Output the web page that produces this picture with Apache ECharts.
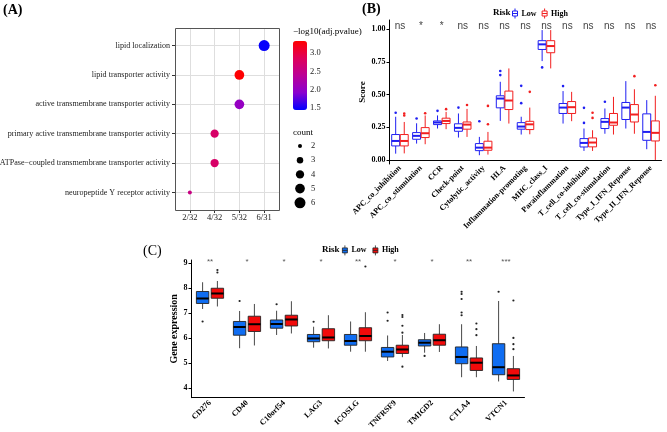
<!DOCTYPE html>
<html>
<head>
<meta charset="utf-8">
<script src="https://cdn.jsdelivr.net/npm/echarts@6.0.0/dist/echarts.min.js"></script>
<style>
html, body { margin: 0; padding: 0; background: #fff; }
#chart { width: 667px; height: 432px; }
</style>
</head>
<body>
<div id="chart"></div>
<script>
// ---- panel A: GO enrichment dot plot
var goTerms = ['lipid localization', 'lipid transporter activity', 'active transmembrane transporter activity',
  'primary active transmembrane transporter activity', 'ATPase\u2212coupled transmembrane transporter activity',
  'neuropeptide Y receptor activity'];
var geneRatioLabels = ['2/32', '4/32', '5/32', '6/31'];
var termRatio = ['6/31', '5/32', '5/32', '4/32', '4/32', '2/32'];
var termCount = [6, 5, 5, 4, 4, 2];
var termLogP = [1.47, 3.32, 2.02, 2.76, 2.76, 2.55];
var logPTicks = [3.0, 2.5, 2.0, 1.5];
var countTicks = [2, 3, 4, 5, 6];

// ---- panel B: immune function scores
var immuneSets = ['APC_co_inhibition', 'APC_co_stimulation', 'CCR', 'Check-point', 'Cytolytic_activity', 'HLA',
  'Inflammation-promoting', 'MHC_class_I', 'Parainflammation', 'T_cell_co-inhibition', 'T_cell_co-stimulation',
  'Type_I_IFN_Reponse', 'Type_II_IFN_Reponse'];
// [min, Q1, median, Q3, max]
var scoreLow = [
  [0.048, 0.107, 0.145, 0.194, 0.33], [0.125, 0.158, 0.184, 0.209, 0.28], [0.24, 0.27, 0.286, 0.298, 0.34],
  [0.171, 0.219, 0.245, 0.276, 0.355], [0.036, 0.071, 0.094, 0.125, 0.176], [0.298, 0.398, 0.469, 0.49, 0.597],
  [0.194, 0.235, 0.255, 0.285, 0.33], [0.755, 0.844, 0.883, 0.911, 0.992], [0.278, 0.355, 0.40, 0.431, 0.526],
  [0.069, 0.099, 0.13, 0.163, 0.24], [0.2, 0.24, 0.291, 0.316, 0.393], [0.24, 0.309, 0.40, 0.439, 0.602],
  [0.082, 0.15, 0.214, 0.352, 0.457]
];
var scoreHigh = [
  [0.05, 0.107, 0.145, 0.194, 0.29], [0.12, 0.171, 0.204, 0.247, 0.34], [0.235, 0.278, 0.298, 0.319, 0.367],
  [0.176, 0.235, 0.27, 0.29, 0.39], [0.041, 0.074, 0.094, 0.143, 0.214], [0.278, 0.385, 0.454, 0.526, 0.699],
  [0.196, 0.232, 0.272, 0.295, 0.40], [0.699, 0.819, 0.87, 0.911, 0.992], [0.296, 0.355, 0.403, 0.446, 0.52],
  [0.069, 0.1, 0.133, 0.168, 0.227], [0.194, 0.265, 0.286, 0.355, 0.482], [0.2, 0.29, 0.347, 0.423, 0.54],
  [0.0, 0.145, 0.207, 0.298, 0.49]
];
var scoreLowOut = [[0.36], [0.316], [0.375], [0.40], [0.296], [0.648, 0.679], [0.434, 0.566], [0.707], [0.564],
  [0.283, 0.398], [0.444], [], []];
var scoreHighOut = [[0.34, 0.355], [0.357], [0.388], [0.42], [0.273, 0.413], [], [0.52], [], [], [0.321, 0.36],
  [], [0.64], [0.57]];
var sigB = ['ns', '*', '*', 'ns', 'ns', 'ns', 'ns', 'ns', 'ns', 'ns', 'ns', 'ns', 'ns'];
var scoreTicks = [0, 0.25, 0.5, 0.75, 1];

// ---- panel C: checkpoint gene expression
var genes = ['CD276', 'CD40', 'C10orf54', 'LAG3', 'ICOSLG', 'TNFRSF9', 'TMIGD2', 'CTLA4', 'VTCN1'];
var exprLow = [
  [7.17, 7.39, 7.59, 7.87, 8.24], [5.6, 6.12, 6.45, 6.67, 7.09], [6.13, 6.4, 6.57, 6.73, 7.1],
  [5.62, 5.86, 5.99, 6.15, 6.46], [5.46, 5.72, 5.89, 6.15, 6.67], [5.09, 5.25, 5.46, 5.63, 6.11],
  [5.42, 5.69, 5.82, 5.94, 6.21], [4.44, 4.98, 5.25, 5.65, 6.56], [4.27, 4.54, 4.84, 5.78, 7.49]
];
var exprHigh = [
  [7.27, 7.6, 7.79, 8.0, 8.29], [5.71, 6.27, 6.56, 6.88, 7.37], [6.19, 6.49, 6.75, 6.92, 7.48],
  [5.59, 5.9, 6.03, 6.38, 6.92], [5.46, 5.9, 6.09, 6.42, 7.04], [5.24, 5.39, 5.55, 5.72, 6.13],
  [5.45, 5.72, 5.92, 6.16, 6.56], [4.44, 4.71, 5.02, 5.21, 5.69], [3.87, 4.35, 4.51, 4.78, 5.29]
];
var exprLowOut = [[6.67], [7.49], [7.36], [6.66], [], [6.7, 7.03], [5.29], [6.92, 7.03, 7.57, 7.77, 7.86], [7.86]];
var exprHighOut = [[8.63, 8.73], [], [], [], [8.87], [4.86, 6.22, 6.5, 6.85, 6.93], [], [6.12, 6.36, 6.59],
  [5.56, 5.76, 6.01, 7.51]];
var sigC = ['**', '*', '*', '*', '**', '*', '*', '**', '***'];
var exprTicks = [4, 5, 6, 7, 8, 9];

var SERIF = '"Liberation Serif", "Times New Roman", serif';
var SANS = '"Liberation Sans", Arial, sans-serif';
var blueB = '#1f1ff2', redB = '#f21f1f';
var blueC = '#0f6df2', redC = '#f20a0a';
var lpMin = 1.445, lpMax = 3.33;

function boxRows(stats) {
  return stats.map(function (s, i) { return [i].concat(s); });
}
function outRows(outs) {
  var rows = [];
  outs.forEach(function (vals, i) { vals.forEach(function (v) { rows.push([i, v]); }); });
  return rows;
}
function boxRender(off, wFrac, fill, stroke, whisker, median, lw) {
  return function (params, api) {
    var i = api.value(0);
    var band = api.size([1, 0])[0];
    var cx = api.coord([i, 0])[0] + band * off;
    var hw = band * wFrac / 2;
    var lo = api.coord([i, api.value(1)])[1];
    var q1 = api.coord([i, api.value(2)])[1];
    var md = api.coord([i, api.value(3)])[1];
    var q3 = api.coord([i, api.value(4)])[1];
    var hi = api.coord([i, api.value(5)])[1];
    return {
      type: 'group',
      children: [
        { type: 'line', shape: { x1: cx, y1: hi, x2: cx, y2: q3 }, style: { stroke: whisker, lineWidth: lw } },
        { type: 'line', shape: { x1: cx, y1: q1, x2: cx, y2: lo }, style: { stroke: whisker, lineWidth: lw } },
        { type: 'rect', shape: { x: cx - hw, y: q3, width: hw * 2, height: q1 - q3 },
          style: { fill: fill, stroke: stroke, lineWidth: lw } },
        { type: 'line', shape: { x1: cx - hw, y1: md, x2: cx + hw, y2: md }, style: { stroke: median, lineWidth: 2 } }
      ]
    };
  };
}
function dotRender(off, color, r) {
  return function (params, api) {
    var band = api.size([1, 0])[0];
    var p = api.coord([api.value(0), api.value(1)]);
    return { type: 'circle', shape: { cx: p[0] + band * off, cy: p[1], r: r }, style: { fill: color } };
  };
}
function sigRender(labels, font, color) {
  return function (params, api) {
    var p = api.coord([api.value(0), api.value(1)]);
    return { type: 'text', x: p[0], y: p[1],
      style: { text: labels[api.value(0)], font: font, fill: color, align: 'center', verticalAlign: 'bottom' } };
  };
}
function dotSize(c) {
  return Math.sqrt(16 + 105 * (c - 2) / 4);
}

var boxIcon = 'path://M3,0L3,3M0,3L6,3L6,9L0,9ZM0,6L6,6M3,9L3,12';

var graphics = [
  { type: 'text', x: 3, y: 3, style: { text: '(A)', font: 'bold 14px ' + SERIF, fill: '#000' } },
  { type: 'text', x: 362, y: 2, style: { text: '(B)', font: 'bold 14px ' + SERIF, fill: '#000' } },
  { type: 'text', x: 143, y: 244, style: { text: '(C)', font: '14px ' + SERIF, fill: '#000' } },
  { type: 'text', x: 293, y: 32, style: { text: '\u2212log10(adj.pvalue)', font: '9px ' + SERIF, fill: '#000', verticalAlign: 'middle' } },
  { type: 'text', x: 293, y: 133, style: { text: 'count', font: '9px ' + SERIF, fill: '#000', verticalAlign: 'middle' } },
  { type: 'text', x: 493, y: 13, style: { text: 'Risk', font: 'bold 9px ' + SERIF, fill: '#000', verticalAlign: 'middle' } },
  { type: 'text', x: 322, y: 250, style: { text: 'Risk', font: 'bold 9px ' + SERIF, fill: '#000', verticalAlign: 'middle' } },
  // panel A frame (theme_bw border)
  { type: 'rect', z: 10, silent: true, shape: { x: 175.5, y: 28.5, width: 104, height: 182 },
    style: { fill: 'none', stroke: '#555', lineWidth: 1 } }
];
logPTicks.forEach(function (v) {
  graphics.push({ type: 'text', x: 310, y: 41 + (lpMax - v) / (lpMax - lpMin) * 69,
    style: { text: v.toFixed(1), font: '8.5px ' + SERIF, fill: '#222', verticalAlign: 'middle' } });
});
countTicks.forEach(function (c, k) {
  var y = 146 + k * 14.2;
  graphics.push({ type: 'circle', shape: { cx: 300, cy: y, r: dotSize(c) / 2 }, style: { fill: '#000' } });
  graphics.push({ type: 'text', x: 311, y: y,
    style: { text: String(c), font: '8.5px ' + SERIF, fill: '#222', verticalAlign: 'middle' } });
});

// panel A major grid lines at every category
var gridMarks = geneRatioLabels.map(function (l, i) { return { xAxis: i }; })
  .concat(goTerms.map(function (t, j) { return { yAxis: j }; }));

var chart = echarts.init(document.getElementById('chart'));
chart.setOption({
  animation: false,
  backgroundColor: '#fff',
  graphic: graphics,
  grid: [
    { left: 175, top: 28, width: 104, height: 182, show: false, outerBoundsMode: 'none' },
    { left: 389.5, top: 20, width: 272, height: 144, outerBoundsMode: 'none' },
    { left: 191.5, top: 260, width: 333, height: 137.7, outerBoundsMode: 'none' }
  ],
  xAxis: [
    { gridIndex: 0, type: 'value', min: -0.6, max: 3.6, position: 'bottom',
      axisLine: { show: false, onZero: false },
      axisTick: { show: true, length: 3, lineStyle: { color: '#333' }, customValues: [0, 1, 2, 3] },
      axisLabel: { customValues: [0, 1, 2, 3], margin: 3, fontSize: 8.5, fontFamily: SERIF, color: '#222',
        formatter: function (v) { return geneRatioLabels[Math.round(v)]; } },
      splitLine: { show: false } },
    { gridIndex: 1, type: 'category', data: immuneSets, boundaryGap: true,
      axisLine: { lineStyle: { color: '#000', width: 1 } },
      axisTick: { alignWithLabel: true, length: 3, lineStyle: { color: '#000' } },
      axisLabel: { interval: 0, rotate: 45, margin: 3, fontSize: 8, fontWeight: 'bold', fontFamily: SERIF, color: '#000' } },
    { gridIndex: 2, type: 'category', data: genes, boundaryGap: true,
      axisLine: { lineStyle: { color: '#000', width: 1 } },
      axisTick: { alignWithLabel: true, length: 3, lineStyle: { color: '#000' } },
      axisLabel: { interval: 0, rotate: 45, margin: 4, fontSize: 8, fontWeight: 'bold', fontFamily: SERIF, color: '#000' } }
  ],
  yAxis: [
    { gridIndex: 0, type: 'value', inverse: true, min: -0.6, max: 5.6, position: 'left',
      axisLine: { show: false, onZero: false },
      axisTick: { show: true, length: 3, lineStyle: { color: '#333' }, customValues: [0, 1, 2, 3, 4, 5] },
      axisLabel: { customValues: [0, 1, 2, 3, 4, 5], margin: 5, fontSize: 8.1, fontFamily: SERIF, color: '#222',
        formatter: function (v) { return goTerms[Math.round(v)]; } },
      splitLine: { show: false } },
    { gridIndex: 1, type: 'value', min: -0.031, max: 1.069,
      name: 'Score', nameLocation: 'middle', nameGap: 22,
      nameTextStyle: { fontSize: 9, fontWeight: 'bold', fontFamily: SERIF, color: '#000' },
      axisLine: { show: true, onZero: false, lineStyle: { color: '#000', width: 1 } },
      axisTick: { show: true, length: 3, customValues: scoreTicks, lineStyle: { color: '#000' } },
      axisLabel: { customValues: scoreTicks, margin: 4, fontSize: 8, fontWeight: 'bold', fontFamily: SERIF, color: '#000',
        formatter: function (v) { return v.toFixed(2); } },
      splitLine: { show: false } },
    { gridIndex: 2, type: 'value', min: 3.62, max: 9.13,
      name: 'Gene expression', nameLocation: 'middle', nameGap: 12,
      nameTextStyle: { fontSize: 10, fontWeight: 'bold', fontFamily: SERIF, color: '#000' },
      axisLine: { show: true, onZero: false, lineStyle: { color: '#000', width: 1 } },
      axisTick: { show: true, length: 3, customValues: exprTicks, lineStyle: { color: '#000' } },
      axisLabel: { customValues: exprTicks, margin: 4, fontSize: 8, fontWeight: 'bold', fontFamily: SERIF, color: '#000' },
      splitLine: { show: false } }
  ],
  visualMap: {
    type: 'continuous', seriesIndex: 0, dimension: 3, min: lpMin, max: lpMax,
    calculable: false, padding: 0, left: 293, top: 41, itemWidth: 14, itemHeight: 69,
    inRange: { color: ['#0000ff', '#8a00cf', '#bb0096', '#df005a', '#ff0000'] }
  },
  legend: [
    { data: [
        { name: 'B Low', icon: boxIcon, itemStyle: { color: '#fff', borderColor: blueB, borderWidth: 1 } },
        { name: 'B High', icon: boxIcon, itemStyle: { color: '#fff', borderColor: redB, borderWidth: 1 } }
      ],
      left: 512, top: 8, padding: 0, itemWidth: 7, itemHeight: 10, itemGap: 5, selectedMode: false,
      formatter: function (n) { return n.slice(2); },
      textStyle: { fontSize: 8, fontWeight: 'bold', fontFamily: SERIF, color: '#000', padding: [0, 0, 0, -2] } },
    { data: [
        { name: 'C Low', icon: boxIcon, itemStyle: { color: blueC, borderColor: '#222', borderWidth: 0.8 } },
        { name: 'C High', icon: boxIcon, itemStyle: { color: redC, borderColor: '#222', borderWidth: 0.8 } }
      ],
      left: 342, top: 245, padding: 0, itemWidth: 7, itemHeight: 10, itemGap: 6, selectedMode: false,
      formatter: function (n) { return n.slice(2); },
      textStyle: { fontSize: 8, fontWeight: 'bold', fontFamily: SERIF, color: '#000', padding: [0, 0, 0, -2] } }
  ],
  series: [
    { type: 'scatter', xAxisIndex: 0, yAxisIndex: 0, z: 3,
      data: goTerms.map(function (t, i) {
        return [geneRatioLabels.indexOf(termRatio[i]), i, termCount[i], termLogP[i]];
      }),
      symbolSize: function (d) { return dotSize(d[2]); },
      itemStyle: { opacity: 1 },
      markLine: {
        z: 2, silent: true, animation: false, symbol: ['none', 'none'],
        label: { show: false }, emphasis: { disabled: true },
        lineStyle: { color: '#dedede', type: 'solid', width: 1, opacity: 1 },
        data: gridMarks
      } },
    { name: 'B Low', type: 'custom', xAxisIndex: 1, yAxisIndex: 1, data: boxRows(scoreLow),
      encode: { x: 0, y: [1, 5] }, itemStyle: { color: blueB },
      renderItem: boxRender(-0.205, 0.38, '#fff', blueB, blueB, blueB, 1) },
    { name: 'B High', type: 'custom', xAxisIndex: 1, yAxisIndex: 1, data: boxRows(scoreHigh),
      encode: { x: 0, y: [1, 5] }, itemStyle: { color: redB },
      renderItem: boxRender(0.205, 0.38, '#fff', redB, redB, redB, 1) },
    { type: 'custom', xAxisIndex: 1, yAxisIndex: 1, data: outRows(scoreLowOut),
      encode: { x: 0, y: 1 }, renderItem: dotRender(-0.205, blueB, 1.3) },
    { type: 'custom', xAxisIndex: 1, yAxisIndex: 1, data: outRows(scoreHighOut),
      encode: { x: 0, y: 1 }, renderItem: dotRender(0.205, redB, 1.3) },
    { type: 'custom', xAxisIndex: 1, yAxisIndex: 1,
      data: immuneSets.map(function (s, i) { return [i, 0.985]; }),
      encode: { x: 0, y: 1 }, renderItem: sigRender(sigB, '10px ' + SANS, '#444') },
    { name: 'C Low', type: 'custom', xAxisIndex: 2, yAxisIndex: 2, data: boxRows(exprLow),
      encode: { x: 0, y: [1, 5] }, itemStyle: { color: blueC },
      renderItem: boxRender(-0.2, 0.335, blueC, '#222', '#333', '#000', 0.9) },
    { name: 'C High', type: 'custom', xAxisIndex: 2, yAxisIndex: 2, data: boxRows(exprHigh),
      encode: { x: 0, y: [1, 5] }, itemStyle: { color: redC },
      renderItem: boxRender(0.2, 0.335, redC, '#222', '#333', '#000', 0.9) },
    { type: 'custom', xAxisIndex: 2, yAxisIndex: 2, data: outRows(exprLowOut),
      encode: { x: 0, y: 1 }, renderItem: dotRender(-0.2, '#222', 1.1) },
    { type: 'custom', xAxisIndex: 2, yAxisIndex: 2, data: outRows(exprHighOut),
      encode: { x: 0, y: 1 }, renderItem: dotRender(0.2, '#222', 1.1) },
    { type: 'custom', xAxisIndex: 2, yAxisIndex: 2,
      data: genes.map(function (g, i) { return [i, 8.9]; }),
      encode: { x: 0, y: 1 }, renderItem: sigRender(sigC, '8px ' + SANS, '#555') }
  ]
});
</script>
</body>
</html>
